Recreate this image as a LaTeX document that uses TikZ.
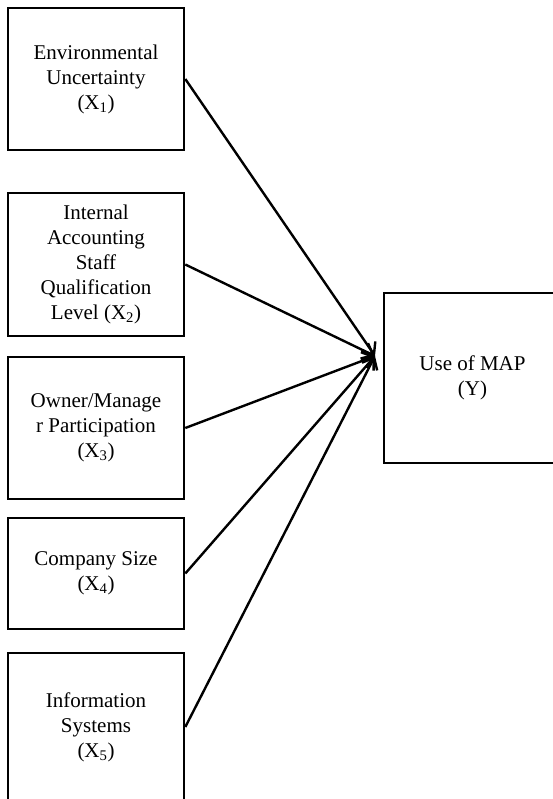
\documentclass[tikz,border=0pt]{standalone}
\usepackage{fontspec}
\setmainfont{Liberation Serif}
\usetikzlibrary{arrows.meta}
\tikzset{
  box/.style={draw, line width=2.6pt, align=center, inner sep=0pt,
    font=\fontsize{21}{25}\selectfont},
  link/.style={line width=2.4pt, -{Straight Barb[length=10pt,width=17pt,line width=2.4pt]}}
}
\begin{document}
\begin{tikzpicture}[x=1pt,y=-1pt]
  \useasboundingbox (0,0) rectangle (552,799);
  % predictors on the left
  \node[box, minimum width=176pt, minimum height=142pt] (x1) at (96,79)
    {Environmental\\Uncertainty\\(X\textsubscript{1})};
  \node[box, minimum width=176pt, minimum height=143pt] (x2) at (96,264.5)
    {Internal\\Accounting\\Staff\\Qualification\\Level (X\textsubscript{2})};
  \node[box, minimum width=176pt, minimum height=142pt] (x3) at (96,428)
    {Owner/Manage\\r Participation\\(X\textsubscript{3})};
  \node[box, minimum width=176pt, minimum height=111pt] (x4) at (96,573.5)
    {Company Size\\(X\textsubscript{4})};
  \node[box, minimum width=176pt, minimum height=148pt] (x5) at (96,727)
    {Information\\Systems\\(X\textsubscript{5})};
  % outcome on the right
  \node[box, minimum width=177pt, minimum height=170pt] (y) at (472.5,378)
    {Use of MAP\\(Y)};
  % common arrow target just left of the outcome box
  \coordinate (tip) at (375,356);
  \foreach \n in {x1,x2,x3,x4,x5}
    \draw[link] (\n.east) -- (tip);
\end{tikzpicture}
\end{document}
